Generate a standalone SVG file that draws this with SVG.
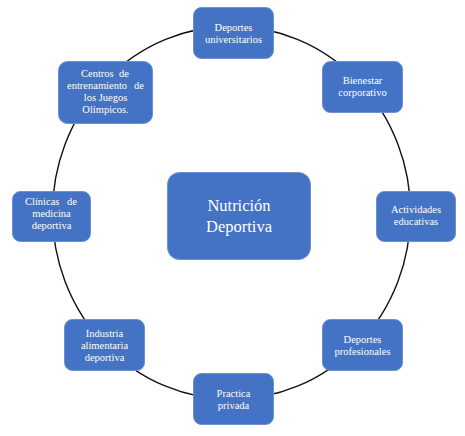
<svg xmlns="http://www.w3.org/2000/svg" width="465" height="436" viewBox="0 0 465 436">
<style>
.n{fill:#4472C4;stroke:#6d90d2;stroke-width:1}
.t{font-family:'Liberation Serif','Times New Roman','DejaVu Serif','Noto Serif',serif;font-size:10.5px;fill:#ffffff;text-anchor:middle}
.s{text-anchor:start}
.e{text-anchor:end}
.big{font-size:16.5px}
.c{fill:none;stroke:#111111;stroke-width:1.4}
</style>
<rect width="465" height="436" fill="#ffffff"/>
<g id="connectors">
<ellipse class="c" cx="231.5" cy="212.8" rx="179" ry="186.5"/>
</g>
<g id="center">
<rect class="n" x="167.5" y="172.5" width="143" height="87" rx="12"/>
<text class="t big" x="239" y="211">Nutrición</text>
<text class="t big" x="239" y="232">Deportiva</text>
</g>
<g id="deportes-universitarios">
<rect class="n" x="193.5" y="7.5" width="80" height="51" rx="8"/>
<text class="t" x="233.5" y="31">Deportes</text>
<text class="t" x="233.5" y="43">universitarios</text>
</g>
<g id="bienestar">
<rect class="n" x="322.5" y="61.5" width="80" height="51" rx="8"/>
<text class="t" x="362.5" y="84">Bienestar</text>
<text class="t" x="362.5" y="96">corporativo</text>
</g>
<g id="actividades">
<rect class="n" x="376.5" y="191.5" width="79" height="50" rx="8"/>
<text class="t" x="416" y="213">Actividades</text>
<text class="t" x="416" y="225">educativas</text>
</g>
<g id="deportes-profesionales">
<rect class="n" x="322.5" y="319.5" width="80" height="51" rx="8"/>
<text class="t" x="362.5" y="343">Deportes</text>
<text class="t" x="362.5" y="355">profesionales</text>
</g>
<g id="practica">
<rect class="n" x="193.5" y="373.5" width="80" height="51" rx="8"/>
<text class="t" x="233.5" y="397">Practica</text>
<text class="t" x="233.5" y="409">privada</text>
</g>
<g id="industria">
<rect class="n" x="64.5" y="319.5" width="80" height="51" rx="8"/>
<text class="t" x="104.5" y="337">Industria</text>
<text class="t" x="104.5" y="349">alimentaria</text>
<text class="t" x="104.5" y="361">deportiva</text>
</g>
<g id="clinicas">
<rect class="n" x="12.5" y="191.5" width="78" height="50" rx="8"/>
<text class="t s" x="25" y="205">Clínicas</text>
<text class="t e" x="77" y="205">de</text>
<text class="t" x="51.5" y="217">medicina</text>
<text class="t" x="51.5" y="229">deportiva</text>
</g>
<g id="centros">
<rect class="n" x="58.5" y="61.5" width="94" height="62" rx="9"/>
<text class="t s" x="81" y="77">Centros</text>
<text class="t e" x="129" y="77">de</text>
<text class="t s" x="67" y="89">entrenamiento</text>
<text class="t e" x="144" y="89">de</text>
<text class="t" x="105.5" y="101">los Juegos</text>
<text class="t" x="105.5" y="113">Olímpicos.</text>
</g>
</svg>
